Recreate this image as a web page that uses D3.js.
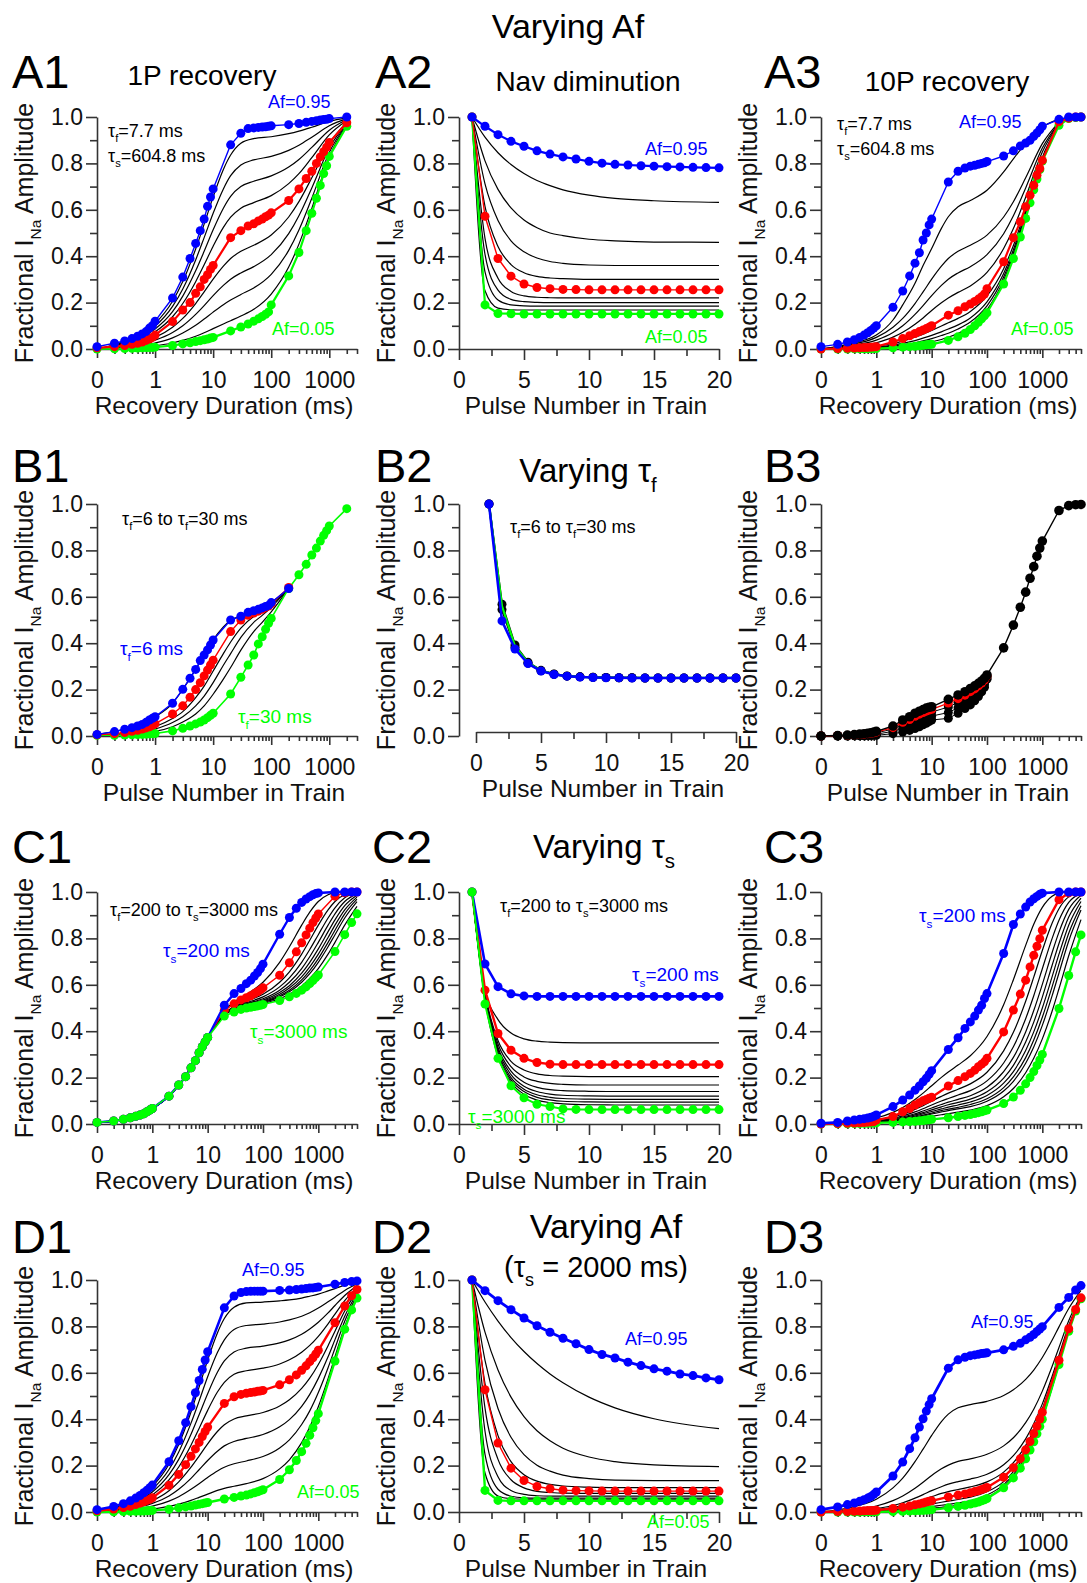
<!DOCTYPE html>
<html>
<head>
<meta charset="utf-8">
<script src="https://cdn.jsdelivr.net/npm/d3@7"></script>
<style>
  body { margin: 0; background: #fff; }
  svg text { font-family: "Liberation Sans", Arial, sans-serif; }
</style>
</head>
<body>
<svg id="fig" width="1087" height="1583"></svg>
<script>
// ---- sample times (ms) and pulse numbers ----
const tMarks3k = [0, 0.2,0.3,0.4,0.5,0.6,0.7,0.8,0.9, 1,2,3,4,5,6,7,8,9, 10,20,30,40,50,60,70,80,90, 100,200,300,400,500,600,700,800,900, 1000,2000];
const tMarks5k = [0, 0.2,0.3,0.4,0.5,0.6,0.7,0.8,0.9, 1,2,3,4,5,6,7,8,9, 10,20,30,40,50,60,70,80,90, 100,200,300,400,500,600,700,800,900, 1000,2000,3000,4000,5000];
const tMarksB1 = [0, 0.2,0.3,0.4,0.5,0.6,0.7,0.8,0.9, 1,2,3,4,5,6,7,8,9, 10,20,30,40,50,60,70,80,90, 100,200];
const tMarks100 = tMarks5k.slice(0, 28);
const tFit18 = [0, 0.3, 1, 2, 3, 5, 7, 10, 15, 20, 30, 50, 100, 200, 300, 500, 1000, 2000];
const tFitB1 = [0, 0.3, 1, 2, 3, 5, 7, 10, 15, 20, 30, 50, 70, 100, 200];
const tFit22 = [0, 0.3, 1, 2, 3, 5, 7, 10, 15, 20, 30, 50, 100, 200, 300, 500, 700, 1000, 1500, 2000, 3000, 5000];
const pulses = [1,2,3,4,5,6,7,8,9,10,11,12,13,14,15,16,17,18,19,20];
const pulseFit = [1,2,3,4,5,6,7,8,10,12,15,20];

const logTicks = [0.1, 1, 10, 100, 1000];
const logTickLabels = ['0', '1', '10', '100', '1000'];
const linTicks = [0, 5, 10, 15, 20];
const yTicks = [0, 0.2, 0.4, 0.6, 0.8, 1.0];

// ---- A1: 1P recovery ----
const a1Blue = [0.01, 0.025,0.035,0.045,0.055,0.065,0.075,0.09,0.10, 0.12,0.22,0.31,0.39,0.455,0.51,0.56,0.615,0.655, 0.69,0.88,0.93,0.95,0.953,0.955,0.957,0.958,0.96, 0.962,0.967,0.972,0.977,0.981,0.984,0.987,0.989,0.99, 0.993,1.0];
const a1Red = [0.005, 0.01,0.015,0.02,0.025,0.03,0.037,0.043,0.05, 0.06,0.118,0.168,0.2,0.24,0.268,0.3,0.32,0.343, 0.36,0.48,0.51,0.53,0.54,0.552,0.56,0.57,0.577, 0.587,0.64,0.69,0.735,0.766,0.8,0.828,0.85,0.87, 0.89,0.975];
const a1Green = [0.0, 0.001,0.002,0.003,0.004,0.005,0.006,0.006,0.007, 0.008,0.015,0.022,0.027,0.032,0.036,0.04,0.043,0.047, 0.05,0.078,0.095,0.108,0.12,0.13,0.14,0.15,0.16, 0.19,0.315,0.416,0.51,0.585,0.65,0.705,0.756,0.79, 0.83,0.96];
const a1Black = [
  [0, .034, .110, .206, .291, .431, .538, .656, .774, .836, .887, .907, .915, .928, .939, .956, .981, .996],
  [0, .030, .098, .184, .259, .384, .480, .585, .690, .747, .793, .815, .830, .856, .878, .913, .962, .993],
  [0, .027, .086, .161, .228, .337, .421, .514, .607, .658, .700, .723, .746, .784, .817, .869, .943, .989],
  [0, .023, .074, .139, .196, .290, .363, .443, .524, .568, .607, .631, .661, .713, .756, .825, .923, .985],
  [0, .016, .050, .094, .132, .196, .246, .301, .357, .390, .421, .447, .491, .569, .635, .738, .885, .978],
  [0, .012, .038, .071, .100, .149, .187, .230, .274, .301, .328, .355, .407, .497, .574, .694, .866, .974],
  [0, .008, .026, .048, .069, .102, .129, .159, .191, .211, .235, .263, .322, .425, .513, .650, .847, .971],
  [0, .004, .014, .026, .037, .055, .070, .088, .108, .122, .142, .171, .237, .353, .452, .606, .828, .967]
];

// ---- A2: Nav diminution ----
const a2Blue = [1.0,0.96,0.924,0.895,0.874,0.854,0.84,0.828,0.819,0.809,0.801,0.796,0.793,0.79,0.788,0.786,0.785,0.783,0.782,0.781];
const a2Red = [1.0,0.572,0.39,0.314,0.28,0.265,0.26,0.257,0.256,0.255,0.255,0.255,0.255,0.255,0.255,0.255,0.255,0.255,0.255,0.255];
const a2Green = [1.0,0.19,0.153,0.152,0.151,0.151,0.151,0.151,0.151,0.151,0.151,0.151,0.151,0.151,0.151,0.151,0.151,0.151,0.151,0.151];
const a2Black = [
  [1, .913, .846, .795, .756, .726, .704, .686, .663, .649, .639, .632],
  [1, .811, .688, .608, .556, .523, .500, .489, .473, .466, .461, .460],
  [1, .712, .554, .466, .419, .392, .377, .369, .362, .360, .360, .360],
  [1, .615, .442, .364, .329, .313, .306, .303, .300, .300, .300, .300],
  [1, .477, .305, .248, .229, .223, .221, .220, .220, .220, .220, .220],
  [1, .408, .254, .214, .204, .201, .200, .200, .200, .200, .200, .200],
  [1, .332, .211, .190, .186, .185, .185, .185, .185, .185, .185, .185],
  [1, .251, .176, .169, .168, .168, .168, .168, .168, .168, .168, .168]
];

// ---- A3: 10P recovery ----
const a3Blue = [0.01, 0.02,0.03,0.04,0.05,0.06,0.07,0.08,0.09, 0.10,0.18,0.25,0.315,0.37,0.415,0.47,0.50,0.535, 0.56,0.72,0.766,0.78,0.788,0.792,0.796,0.80,0.803, 0.808,0.832,0.854,0.875,0.888,0.90,0.917,0.931,0.945, 0.96,0.99,1.0,1.0,1.0];
const a3Red = [0.0, 0.002,0.003,0.004,0.005,0.006,0.007,0.008,0.009, 0.01,0.03,0.045,0.057,0.067,0.075,0.082,0.088,0.094, 0.1,0.146,0.165,0.182,0.194,0.205,0.215,0.225,0.237, 0.26,0.376,0.48,0.548,0.613,0.663,0.706,0.749,0.778, 0.813,0.98,0.995,1.0,1.0];
const a3Green = [0.0, 0.0,0.0,0.001,0.001,0.001,0.001,0.002,0.002, 0.002,0.005,0.008,0.01,0.012,0.014,0.016,0.018,0.019, 0.02,0.037,0.053,0.068,0.084,0.1,0.115,0.13,0.143, 0.156,0.28,0.39,0.483,0.563,0.63,0.686,0.733,0.773, 0.81,0.964,0.993,0.998,1.0];
const a3Black = [
  [0, .020, .060, .125, .190, .283, .360, .433, .520, .570, .613, .640, .684, .763, .820, .885, .957, .990],
  [0, .016, .050, .094, .132, .196, .246, .301, .357, .390, .421, .447, .491, .569, .635, .738, .885, .978],
  [0, .012, .038, .071, .100, .149, .187, .230, .274, .301, .328, .355, .407, .497, .574, .694, .866, .974],
  [0, .008, .027, .051, .072, .107, .134, .166, .199, .220, .244, .272, .330, .433, .519, .654, .849, .971],
  [0, .004, .013, .024, .034, .051, .064, .080, .099, .113, .132, .162, .229, .346, .446, .602, .826, .967],
  [0, .003, .009, .017, .024, .036, .047, .059, .074, .086, .104, .134, .203, .325, .428, .589, .820, .966],
  [0, .002, .007, .012, .018, .027, .035, .045, .058, .068, .086, .116, .186, .310, .415, .580, .816, .965],
  [0, .001, .004, .008, .011, .018, .023, .031, .041, .051, .067, .098, .169, .296, .403, .571, .812, .964]
];

// ---- B1: varying tau_f, 1P ----
const b1Blue = [0.007, 0.019,0.029,0.036,0.043,0.05,0.059,0.069,0.076, 0.083,0.141,0.201,0.249,0.287,0.325,0.349,0.371,0.392, 0.414,0.5,0.516,0.533,0.54,0.546,0.552,0.558,0.563, 0.575,0.636];
const b1Red = [0.005, 0.01,0.015,0.02,0.025,0.03,0.035,0.04,0.046, 0.052,0.095,0.13,0.167,0.2,0.23,0.259,0.284,0.306, 0.327,0.45,0.5,0.52,0.53,0.538,0.546,0.555,0.56, 0.57,0.64];
const b1Green = [0.003, 0.003,0.004,0.005,0.006,0.007,0.008,0.009,0.01, 0.011,0.022,0.033,0.043,0.052,0.06,0.069,0.079,0.089, 0.098,0.181,0.253,0.306,0.349,0.397,0.428,0.46,0.486, 0.507,0.636,0.695,0.74,0.78,0.81,0.84,0.865,0.885, 0.905,0.98];
const b1Black = [
  [.007, .030, .083, .141, .201, .287, .349, .414, .470, .500, .516, .540, .552, .575, .636],
  [.005, .012, .040, .075, .105, .165, .215, .280, .355, .405, .465, .515, .535, .565, .636],
  [.004, .010, .030, .058, .083, .130, .172, .230, .305, .355, .425, .490, .520, .555, .636],
  [.004, .008, .020, .040, .060, .095, .130, .180, .245, .295, .370, .450, .490, .535, .636]
];

// ---- B2: varying tau_f, train ----
const b2Blue = [1.0,0.496,0.375,0.312,0.28,0.265,0.258,0.254,0.252,0.251,0.251,0.25,0.25,0.25,0.25,0.25,0.25,0.25,0.25,0.25];
const b2Green = [1.0,0.56,0.387,0.316,0.282,0.266,0.259,0.255,0.253,0.252,0.251,0.251,0.251,0.251,0.251,0.251,0.251,0.251,0.251,0.251];
const b2BlackA = [1.0,0.568,0.392,0.318,0.283,0.267,0.259,0.255,0.253,0.252,0.251,0.251,0.25,0.25,0.25,0.25,0.25,0.25,0.25,0.25];
const b2BlackB = [1.0,0.545,0.383,0.314,0.281,0.266,0.258,0.255,0.253,0.252,0.251,0.251,0.25,0.25,0.25,0.25,0.25,0.25,0.25,0.25];

// ---- B3: varying tau_f, 10P ----
const b3Top = [0, 0.002,0.004,0.006,0.008,0.01,0.012,0.014,0.017, 0.02,0.043,0.069,0.083,0.098,0.107,0.114,0.12,0.124, 0.126,0.158,0.177,0.191,0.205,0.216,0.227,0.237,0.249, 0.263,0.38,0.478,0.555,0.62,0.68,0.73,0.775,0.81, 0.84,0.972,0.993,0.997,0.998];
const b3Red = [0, .002,.003,.005,.007,.008,.01,.012,.014, .017,.036,.059,.071,.085,.094,.101,.107,.112, .115,.142,.161,.176,.191,.203,.216,.228,.241, .259];
const b3Low = [
  [0, .001,.002,.004,.005,.006,.008,.009,.011, .013,.030,.048,.059,.072,.080,.088,.094,.099, .103,.125,.145,.162,.177,.190,.204,.218,.233, .256],
  [0, .001,.001,.003,.003,.004,.005,.006,.007, .008,.020,.033,.042,.052,.060,.068,.075,.081, .086,.101,.122,.140,.155,.171,.187,.204,.222, .250],
  [0, 0,0,.001,.001,.001,.002,.002,.003, .003,.010,.017,.024,.032,.040,.048,.055,.062, .069,.076,.098,.118,.134,.152,.170,.190,.210, .245]
];

// ---- C1: varying tau_s, 1P ----
const c1Blue = [0.007, 0.013,0.02,0.027,0.033,0.039,0.044,0.053,0.06, 0.067,0.12,0.168,0.204,0.242,0.273,0.307,0.333,0.354, 0.373,0.512,0.562,0.584,0.605,0.62,0.638,0.653,0.67, 0.689,0.818,0.89,0.93,0.955,0.97,0.98,0.988,0.993, 0.996,1.0,1.0,1.0,1.0];
const c1Red = [0.007, 0.013,0.02,0.027,0.033,0.039,0.044,0.053,0.06, 0.067,0.12,0.168,0.204,0.242,0.273,0.307,0.333,0.354, 0.373,0.49,0.518,0.535,0.544,0.553,0.562,0.57,0.578, 0.587,0.641,0.695,0.742,0.781,0.815,0.844,0.868,0.888, 0.905,0.982,0.997,1.0,1.0];
const c1Green = [0.007, 0.013,0.02,0.027,0.033,0.039,0.044,0.053,0.06, 0.067,0.12,0.168,0.204,0.242,0.273,0.307,0.333,0.354, 0.373,0.465,0.483,0.494,0.5,0.503,0.506,0.509,0.512, 0.515,0.532,0.548,0.563,0.577,0.591,0.605,0.618,0.631, 0.642,0.743,0.816,0.868,0.906];
const c1Black = [
  [.007,.02,.067,.12,.168,.242,.307,.373,.440, .488,.526,.558,.611,.697,.764,.857,.913,.959,.988,.997,1.0,1.0],
  [.007,.02,.067,.12,.168,.242,.307,.373,.435, .475,.508,.529,.559,.611,.656,.732,.792,.857,.923,.959,.988,.999],
  [.007,.02,.067,.12,.168,.242,.307,.373,.435, .473,.505,.523,.548,.591,.630,.697,.752,.816,.888,.932,.975,.997],
  [.007,.02,.067,.12,.168,.242,.307,.373,.435, .471,.502,.519,.540,.577,.611,.670,.721,.783,.857,.906,.959,.992],
  [.007,.02,.067,.12,.168,.242,.307,.373,.435, .470,.501,.517,.534,.567,.596,.650,.697,.755,.829,.880,.941,.986],
  [.007,.02,.067,.12,.168,.242,.307,.373,.435, .469,.499,.514,.530,.559,.586,.634,.677,.732,.804,.857,.923,.978],
  [.007,.02,.067,.12,.168,.242,.307,.373,.435, .468,.498,.513,.527,.553,.577,.621,.661,.713,.783,.835,.906,.969],
  [.007,.02,.067,.12,.168,.242,.307,.373,.435, .468,.497,.511,.524,.548,.570,.611,.648,.697,.764,.816,.888,.959],
  [.007,.02,.067,.12,.168,.242,.307,.373,.435, .467,.496,.509,.520,.540,.559,.594,.627,.670,.732,.783,.857,.938]
];

// ---- C2: varying tau_s, train ----
const c2Blue = [1.0,0.69,0.592,0.561,0.552,0.55,0.55,0.55,0.55,0.55,0.55,0.55,0.55,0.55,0.55,0.55,0.55,0.55,0.55,0.55];
const c2Red = [1.0,0.577,0.39,0.318,0.283,0.265,0.258,0.256,0.256,0.256,0.256,0.256,0.256,0.256,0.256,0.256,0.256,0.256,0.256,0.256];
const c2Green = [1.0,0.517,0.283,0.165,0.113,0.085,0.075,0.065,0.063,0.062,0.062,0.062,0.062,0.062,0.062,0.062,0.062,0.062,0.062,0.062];
const c2Black = [
  [1, .580, .450, .392, .367, .357, .353, .351, .350, .350, .350, .350],
  [1, .565, .360, .270, .233, .216, .209, .206, .204, .204, .204, .204],
  [1, .560, .345, .247, .203, .184, .175, .171, .168, .168, .168, .168],
  [1, .555, .330, .228, .180, .158, .148, .144, .141, .140, .140, .140],
  [1, .550, .320, .213, .163, .140, .129, .124, .121, .120, .120, .120],
  [1, .545, .310, .200, .150, .126, .115, .110, .107, .106, .106, .106],
  [1, .540, .300, .190, .140, .115, .104, .098, .095, .094, .094, .094],
  [1, .535, .290, .180, .128, .103, .092, .087, .083, .082, .082, .082]
];

// ---- C3: varying tau_s, 10P ----
const c3Blue = [0.003, 0.007,0.013,0.017,0.02,0.023,0.026,0.029,0.033, 0.039,0.075,0.103,0.125,0.146,0.164,0.182,0.197,0.214, 0.23,0.321,0.372,0.412,0.44,0.465,0.491,0.512,0.541, 0.562,0.735,0.86,0.905,0.935,0.957,0.971,0.981,0.99, 0.995,1.0,1.0,1.0,1.0];
const c3Red = [0.0, 0.002,0.003,0.004,0.005,0.006,0.008,0.009,0.01, 0.017,0.032,0.053,0.067,0.082,0.092,0.1,0.106,0.111, 0.115,0.164,0.187,0.204,0.218,0.232,0.247,0.258,0.268, 0.283,0.397,0.491,0.56,0.62,0.677,0.727,0.766,0.799, 0.835,0.967,0.996,1.0,1.0];
const c3Green = [0.0, 0.001,0.001,0.002,0.002,0.003,0.003,0.004,0.004, 0.005,0.007,0.009,0.011,0.012,0.014,0.015,0.017,0.018, 0.02,0.027,0.032,0.037,0.041,0.045,0.049,0.053,0.057, 0.06,0.088,0.116,0.145,0.173,0.2,0.226,0.252,0.276, 0.3,0.498,0.64,0.742,0.815];
const c3Black = [
  [0, .008, .026, .050, .071, .106, .133, .165, .201, .224, .254, .294, .377, .514, .622, .770, .861, .934, .982, .995, 1.0, 1.0],
  [0, .005, .016, .030, .042, .063, .079, .098, .119, .133, .150, .173, .223, .315, .395, .529, .633, .748, .865, .928, .979, .998],
  [0, .004, .013, .025, .035, .052, .066, .082, .099, .110, .125, .144, .186, .263, .333, .454, .553, .669, .799, .878, .955, .994],
  [0, .003, .011, .021, .030, .044, .056, .069, .084, .094, .106, .122, .158, .226, .287, .397, .489, .602, .738, .827, .925, .986],
  [0, .003, .010, .019, .026, .039, .049, .061, .074, .083, .093, .107, .139, .198, .253, .353, .439, .547, .683, .778, .892, .974],
  [0, .003, .009, .016, .023, .034, .044, .054, .065, .073, .082, .095, .123, .176, .226, .317, .397, .500, .634, .732, .857, .959],
  [0, .002, .008, .014, .020, .030, .038, .047, .058, .064, .072, .084, .109, .157, .203, .286, .362, .460, .591, .690, .822, .941],
  [0, .002, .007, .013, .018, .027, .034, .043, .052, .058, .065, .075, .098, .142, .184, .262, .332, .425, .552, .651, .789, .922],
  [0, .002, .005, .010, .014, .021, .027, .033, .040, .045, .051, .060, .079, .117, .153, .221, .283, .367, .486, .583, .725, .881]
];

// ---- D1: varying Af (tau_s = 2000 ms), 1P ----
const d1Blue = [0.01, 0.024,0.036,0.048,0.06,0.071,0.083,0.094,0.105, 0.116,0.217,0.307,0.385,0.454,0.514,0.567,0.614,0.655, 0.691,0.88,0.931,0.946,0.95,0.951,0.952,0.952,0.952, 0.952,0.955,0.957,0.959,0.961,0.963,0.965,0.966,0.968, 0.97,0.982,0.989,0.993,0.996];
const d1Red = [0.005, 0.013,0.019,0.025,0.032,0.038,0.044,0.05,0.055, 0.061,0.115,0.162,0.204,0.24,0.272,0.3,0.325,0.347, 0.366,0.468,0.497,0.507,0.512,0.515,0.517,0.52,0.522, 0.524,0.548,0.57,0.591,0.611,0.63,0.648,0.665,0.681, 0.697,0.816,0.888,0.932,0.959];
const d1Green = [0.0, 0.001,0.002,0.003,0.003,0.004,0.004,0.005,0.006, 0.007,0.012,0.018,0.022,0.026,0.03,0.033,0.036,0.039, 0.041,0.056,0.063,0.069,0.073,0.078,0.083,0.087,0.092, 0.096,0.14,0.182,0.222,0.26,0.296,0.331,0.363,0.394, 0.424,0.651,0.788,0.871,0.922];
const d1Black = [
  [0, .034, .110, .206, .291, .431, .538, .655, .772, .834, .883, .901, .905, .910, .914, .922, .930, .939, .953, .963, .978, .992],
  [0, .031, .098, .183, .259, .383, .478, .583, .687, .742, .787, .804, .810, .819, .828, .844, .859, .879, .906, .926, .955, .984],
  [0, .027, .086, .161, .227, .335, .419, .510, .602, .651, .690, .706, .715, .729, .742, .766, .789, .818, .858, .890, .933, .975],
  [0, .023, .073, .138, .194, .288, .360, .438, .517, .559, .594, .609, .620, .638, .656, .689, .718, .757, .811, .853, .911, .967],
  [0, .015, .049, .092, .130, .193, .241, .294, .347, .376, .401, .414, .429, .457, .484, .533, .577, .636, .717, .779, .866, .951],
  [0, .012, .037, .069, .098, .145, .182, .222, .262, .285, .304, .317, .334, .367, .398, .455, .507, .576, .669, .743, .844, .943],
  [0, .008, .025, .047, .066, .098, .122, .149, .177, .193, .208, .220, .239, .276, .311, .377, .436, .515, .622, .706, .822, .934],
  [0, .004, .013, .024, .034, .050, .063, .077, .093, .102, .111, .122, .144, .186, .225, .299, .366, .454, .575, .669, .799, .926]
];

// ---- D2: varying Af (tau_s = 2000 ms), train ----
const d2Blue = [1.0,0.954,0.911,0.872,0.836,0.803,0.775,0.749,0.725,0.70,0.679,0.664,0.646,0.631,0.617,0.607,0.595,0.588,0.578,0.57];
const d2Red = [1.0,0.527,0.297,0.189,0.136,0.11,0.1,0.094,0.092,0.091,0.09,0.09,0.09,0.09,0.09,0.09,0.09,0.09,0.09,0.09];
const d2Green = [1.0,0.093,0.05,0.048,0.048,0.048,0.048,0.048,0.048,0.048,0.048,0.048,0.048,0.048,0.048,0.048,0.048,0.048,0.048,0.048];
const d2Black = [
  [1, .905, .823, .752, .692, .640, .595, .557, .495, .449, .402, .359],
  [1, .775, .612, .495, .411, .350, .307, .275, .237, .217, .203, .196],
  [1, .654, .446, .322, .247, .202, .176, .159, .144, .137, .135, .135],
  [1, .553, .329, .217, .161, .133, .119, .112, .107, .105, .105, .105],
  [1, .448, .227, .139, .104, .089, .084, .081, .080, .080, .080, .080],
  [1, .348, .152, .093, .076, .070, .068, .068, .068, .068, .068, .068],
  [1, .248, .098, .068, .061, .060, .060, .060, .060, .060, .060, .060],
  [1, .168, .069, .057, .055, .055, .055, .055, .055, .055, .055, .055]
];

// ---- D3: varying Af (tau_s = 2000 ms), 10P ----
const d3Blue = [0.01, 0.022,0.032,0.039,0.046,0.053,0.06,0.067,0.076, 0.086,0.155,0.215,0.273,0.32,0.366,0.402,0.435,0.463, 0.488,0.62,0.656,0.667,0.674,0.677,0.68,0.683,0.684, 0.686,0.699,0.714,0.727,0.742,0.753,0.765,0.778,0.789, 0.799,0.882,0.925,0.957,0.976];
const d3Red = [0.0, 0.002,0.002,0.003,0.004,0.005,0.006,0.006,0.007, 0.008,0.015,0.021,0.026,0.031,0.035,0.039,0.043,0.046, 0.048,0.065,0.073,0.078,0.083,0.088,0.092,0.097,0.101, 0.106,0.15,0.191,0.23,0.268,0.304,0.338,0.37,0.401, 0.43,0.654,0.79,0.873,0.923];
const d3Green = [0.0, 0.0,0.0,0.0,0.0,0.001,0.001,0.001,0.001, 0.001,0.002,0.003,0.004,0.005,0.006,0.007,0.008,0.009, 0.01,0.018,0.024,0.029,0.034,0.039,0.043,0.048,0.053, 0.058,0.104,0.147,0.189,0.229,0.267,0.303,0.337,0.369, 0.4,0.636,0.779,0.866,0.919];
const d3Black = [
  [0, .017, .055, .104, .146, .217, .271, .330, .390, .422, .449, .463, .477, .502, .527, .572, .612, .666, .740, .798, .877, .955],
  [0, .008, .026, .049, .069, .102, .128, .157, .186, .202, .218, .229, .249, .285, .320, .385, .443, .521, .627, .709, .824, .935],
  [0, .005, .015, .028, .040, .060, .075, .092, .109, .120, .131, .142, .163, .204, .243, .315, .380, .466, .584, .676, .804, .928],
  [0, .003, .011, .020, .029, .043, .054, .066, .080, .088, .097, .108, .130, .172, .213, .287, .355, .445, .568, .663, .796, .925],
  [0, .002, .005, .010, .014, .022, .027, .034, .042, .047, .054, .064, .087, .131, .174, .252, .324, .418, .547, .647, .786, .921],
  [0, .001, .004, .007, .010, .014, .018, .023, .029, .033, .039, .049, .073, .118, .161, .241, .313, .409, .539, .641, .783, .920],
  [0, .001, .002, .004, .006, .010, .012, .016, .020, .024, .029, .039, .063, .109, .152, .233, .306, .403, .535, .638, .780, .919]
];

// ---- drawing ----
const svg = d3.select('#fig');
const BLACK = '#000', RED = '#ff0000', GREEN = '#00ff00', BLUE = '#0000ff';
const AXIS = '#333';
const PW = 260, PH = 232;

const fits = (t, rows) => rows.map(v => ({ t, v, c: BLACK, w: 1.2, r: 0, smooth: true }));
const dots = (t, v, c, w = 2, r = 4.5) => ({ t, v, c, w, r, smooth: false });

// text with tau subscripts: segments starting with "_" are subscripts
function rich(g, x, y, segs, size, color, anchor = 'start') {
  const t = g.append('text').attr('x', x).attr('y', y)
    .attr('font-size', size).attr('fill', color).attr('text-anchor', anchor);
  let shift = 0;
  segs.forEach(s => {
    const sub = s.startsWith('_');
    const target = sub ? size * 0.3 : 0;
    t.append('tspan').attr('dy', target - shift)
      .attr('font-size', sub ? size * 0.62 : size)
      .text(sub ? s.slice(1) : s);
    shift = target;
  });
  return t;
}

function styleAxis(sel) {
  sel.attr('font-size', 23).attr('font-family', '"Liberation Sans", Arial, sans-serif');
  sel.selectAll('path.domain').attr('stroke', AXIS).attr('stroke-width', 1.6);
  sel.selectAll('.tick line').attr('stroke', AXIS).attr('stroke-width', 1.6);
  sel.selectAll('.tick text').attr('fill', '#111');
}

function drawPanel(p) {
  const g = svg.append('g');
  const bottom = p.top + PH;
  const xStart = p.xStart ?? p.x0;
  const xAxisY = p.xAxisY ?? bottom;
  const x = p.lin
    ? d3.scaleLinear().domain([0, 20]).range([xStart, xStart + PW])
    : d3.scaleLog().domain([0.1, p.xMax]).range([p.x0, p.x0 + PW]);
  const y = d3.scaleLinear().domain([0, 1]).range([bottom, p.top]);
  const xv = t => (p.lin ? t : (t === 0 ? 0.1 : t));

  // y axis
  g.append('g').attr('transform', `translate(${p.x0},0)`)
    .call(d3.axisLeft(y).tickValues(yTicks).tickFormat(d3.format('.1f')).tickSize(11).tickSizeOuter(0).tickPadding(3))
    .call(styleAxis);
  g.append('g').attr('transform', `translate(${p.x0},0)`)
    .call(d3.axisLeft(y).tickValues([0.1, 0.3, 0.5, 0.7, 0.9]).tickFormat('').tickSize(7).tickSizeOuter(0))
    .call(styleAxis).select('path.domain').remove();

  // x axis
  if (p.lin) {
    g.append('g').attr('transform', `translate(0,${xAxisY})`)
      .call(d3.axisBottom(x).tickValues(linTicks).tickFormat(d3.format('d')).tickSize(11).tickSizeOuter(0).tickPadding(12))
      .call(styleAxis);
    g.append('g').attr('transform', `translate(0,${xAxisY})`)
      .call(d3.axisBottom(x).tickValues([2.5, 7.5, 12.5, 17.5]).tickFormat('').tickSize(7).tickSizeOuter(0))
      .call(styleAxis).select('path.domain').remove();
  } else {
    g.append('g').attr('transform', `translate(0,${xAxisY})`)
      .call(d3.axisBottom(x).tickValues(logTicks).tickFormat((d, i) => logTickLabels[i]).tickSize(9).tickSizeOuter(0).tickPadding(14))
      .call(styleAxis);
    const minor = x.ticks().filter(v => Math.abs(Math.log10(v) - Math.round(Math.log10(v))) > 1e-6);
    g.append('g').attr('transform', `translate(0,${xAxisY})`)
      .call(d3.axisBottom(x).tickValues(minor).tickFormat('').tickSize(5).tickSizeOuter(0))
      .call(styleAxis).select('path.domain').remove();
  }

  // axis titles
  g.append('text').attr('x', xStart + 127).attr('y', xAxisY + 65)
    .attr('text-anchor', 'middle').attr('font-size', 24.5).attr('fill', '#111').text(p.xTitle);
  rich(g, 0, 0, ['Fractional I', '_Na', ' Amplitude'], 25, '#111', 'middle')
    .attr('transform', `translate(${p.x0 - 64},${(p.top + bottom) / 2}) rotate(-90)`);

  // series
  p.layers.forEach(L => {
    const n = Math.min(L.t.length, L.v.length);
    const pts = d3.range(n).map(i => [x(xv(L.t[i])), y(L.v[i])]);
    const line = d3.line().curve(L.smooth ? d3.curveMonotoneX : d3.curveLinear);
    g.append('path').attr('d', line(pts)).attr('fill', 'none')
      .attr('stroke', L.c).attr('stroke-width', L.w).attr('stroke-linejoin', 'round');
    if (L.r) {
      g.append('g').selectAll('circle').data(pts).join('circle')
        .attr('cx', d => d[0]).attr('cy', d => d[1]).attr('r', L.r).attr('fill', L.c);
    }
  });
}

const RD = 'Recovery Duration (ms)', PN = 'Pulse Number in Train';
const panels = [
  { x0: 97, top: 117, xMax: 3000, xTitle: RD,
    layers: [...fits(tFit18, a1Black), dots(tMarks3k, a1Green, GREEN, 2.2), dots(tMarks3k, a1Red, RED, 2.2), dots(tMarks3k, a1Blue, BLUE, 1.4)] },
  { x0: 459, top: 117, lin: true, xTitle: PN,
    layers: [...fits(pulseFit, a2Black), dots(pulses, a2Green, GREEN, 2.2), dots(pulses, a2Red, RED, 1.4), dots(pulses, a2Blue, BLUE, 2.2)] },
  { x0: 821, top: 117, xMax: 5000, xTitle: RD,
    layers: [...fits(tFit18, a3Black), dots(tMarks5k, a3Green, GREEN, 2.2), dots(tMarks5k, a3Red, RED, 2.2), dots(tMarks5k, a3Blue, BLUE, 1.4)] },

  { x0: 97, top: 504, xMax: 3000, xTitle: PN,
    layers: [...fits(tFitB1, b1Black), dots(tMarks3k, b1Green, GREEN, 1.6), dots(tMarksB1, b1Red, RED, 1.4), dots(tMarksB1, b1Blue, BLUE, 1.4)] },
  { x0: 459, top: 504, lin: true, xStart: 476, xAxisY: 732, xTitle: PN,
    layers: [dots(pulses, b2BlackA, BLACK, 2), dots(pulses, b2BlackB, BLACK, 2), dots(pulses, b2Green, GREEN, 2.2, 0), dots(pulses, b2Blue, BLUE, 2.6)] },
  { x0: 821, top: 504, xMax: 5000, xTitle: PN,
    layers: [...b3Low.map(v => dots(tMarks100, v, BLACK, 1, 4.5)), dots(tMarks100, b3Red, RED, 1.4, 4.5), dots(tMarks5k, b3Top, BLACK, 1.4, 4.8)] },

  { x0: 97, top: 892, xMax: 5000, xTitle: RD,
    layers: [...fits(tFit22, c1Black), dots(tMarks5k, c1Red, RED, 1.4), dots(tMarks5k, c1Blue, BLUE, 2.4), dots(tMarks5k, c1Green, GREEN, 1.6)] },
  { x0: 459, top: 892, lin: true, xTitle: PN,
    layers: [...fits(pulseFit, c2Black), dots(pulses, c2Red, RED, 2.4), dots(pulses, c2Blue, BLUE, 2.6), dots(pulses, c2Green, GREEN, 2)] },
  { x0: 821, top: 892, xMax: 5000, xTitle: RD,
    layers: [...fits(tFit22, c3Black), dots(tMarks5k, c3Green, GREEN, 2.4), dots(tMarks5k, c3Red, RED, 2.4), dots(tMarks5k, c3Blue, BLUE, 2.6)] },

  { x0: 97, top: 1280, xMax: 5000, xTitle: RD,
    layers: [...fits(tFit22, d1Black), dots(tMarks5k, d1Green, GREEN, 2.4), dots(tMarks5k, d1Red, RED, 2.4), dots(tMarks5k, d1Blue, BLUE, 2.6)] },
  { x0: 459, top: 1280, lin: true, xTitle: PN,
    layers: [...fits(pulseFit, d2Black), dots(pulses, d2Green, GREEN, 2.4), dots(pulses, d2Red, RED, 1.4), dots(pulses, d2Blue, BLUE, 2.8)] },
  { x0: 821, top: 1280, xMax: 5000, xTitle: RD,
    layers: [...fits(tFit22, d3Black), dots(tMarks5k, d3Green, GREEN, 2.4), dots(tMarks5k, d3Red, RED, 2.4), dots(tMarks5k, d3Blue, BLUE, 2.8)] }
];
panels.forEach(drawPanel);

// ---- titles and letters ----
const T = svg.append('g');
T.append('text').attr('x', 568).attr('y', 38).attr('text-anchor', 'middle').attr('font-size', 34).text('Varying Af');
const letters = [['A1', 12, 88], ['A2', 375, 88], ['A3', 764, 88], ['B1', 12, 482], ['B2', 375, 482], ['B3', 764, 482],
  ['C1', 12, 863], ['C2', 372, 863], ['C3', 764, 863], ['D1', 12, 1253], ['D2', 372, 1253], ['D3', 764, 1253]];
letters.forEach(([s, x, y]) => T.append('text').attr('x', x).attr('y', y).attr('font-size', 47).text(s));

T.append('text').attr('x', 202).attr('y', 85).attr('text-anchor', 'middle').attr('font-size', 28).text('1P recovery');
T.append('text').attr('x', 588).attr('y', 91).attr('text-anchor', 'middle').attr('font-size', 28).text('Nav diminution');
T.append('text').attr('x', 947).attr('y', 91).attr('text-anchor', 'middle').attr('font-size', 28).text('10P recovery');
rich(T, 588, 482, ['Varying τ', '_f'], 33, '#000', 'middle');
rich(T, 604, 858, ['Varying τ', '_s'], 33, '#000', 'middle');
T.append('text').attr('x', 606).attr('y', 1238).attr('text-anchor', 'middle').attr('font-size', 34).text('Varying Af');
rich(T, 596, 1277, ['(τ', '_s', ' = 2000 ms)'], 29, '#000', 'middle');

// ---- annotations ----
const A = 18;
rich(T, 108, 137, ['τ', '_f', '=7.7 ms'], A, '#000');
rich(T, 108, 162, ['τ', '_s', '=604.8 ms'], A, '#000');
T.append('text').attr('x', 268).attr('y', 108).attr('font-size', A).attr('fill', BLUE).text('Af=0.95');
T.append('text').attr('x', 272).attr('y', 335).attr('font-size', A).attr('fill', GREEN).text('Af=0.05');

T.append('text').attr('x', 645).attr('y', 155).attr('font-size', A).attr('fill', BLUE).text('Af=0.95');
T.append('text').attr('x', 645).attr('y', 343).attr('font-size', A).attr('fill', GREEN).text('Af=0.05');

rich(T, 837, 130, ['τ', '_f', '=7.7 ms'], A, '#000');
rich(T, 837, 155, ['τ', '_s', '=604.8 ms'], A, '#000');
T.append('text').attr('x', 959).attr('y', 128).attr('font-size', A).attr('fill', BLUE).text('Af=0.95');
T.append('text').attr('x', 1011).attr('y', 335).attr('font-size', A).attr('fill', GREEN).text('Af=0.05');

rich(T, 122, 525, ['τ', '_f', '=6 to τ', '_f', '=30 ms'], A, '#000');
rich(T, 120, 655, ['τ', '_f', '=6 ms'], 19, BLUE);
rich(T, 238, 723, ['τ', '_f', '=30 ms'], 19, GREEN);
rich(T, 510, 533, ['τ', '_f', '=6 to τ', '_f', '=30 ms'], A, '#000');

rich(T, 110, 916, ['τ', '_f', '=200 to τ', '_s', '=3000 ms'], A, '#000');
rich(T, 163, 957, ['τ', '_s', '=200 ms'], 19, BLUE);
rich(T, 250, 1038, ['τ', '_s', '=3000 ms'], 19, GREEN);
rich(T, 500, 912, ['τ', '_f', '=200 to τ', '_s', '=3000 ms'], A, '#000');
rich(T, 632, 981, ['τ', '_s', '=200 ms'], 19, BLUE);
rich(T, 468, 1123, ['τ', '_s', '=3000 ms'], 19, GREEN);
rich(T, 919, 922, ['τ', '_s', '=200 ms'], 19, BLUE);

T.append('text').attr('x', 242).attr('y', 1276).attr('font-size', A).attr('fill', BLUE).text('Af=0.95');
T.append('text').attr('x', 297).attr('y', 1498).attr('font-size', A).attr('fill', GREEN).text('Af=0.05');
T.append('text').attr('x', 625).attr('y', 1345).attr('font-size', A).attr('fill', BLUE).text('Af=0.95');
T.append('text').attr('x', 647).attr('y', 1528).attr('font-size', A).attr('fill', GREEN).text('Af=0.05');
T.append('text').attr('x', 971).attr('y', 1328).attr('font-size', A).attr('fill', BLUE).text('Af=0.95');
</script>
</body>
</html>
